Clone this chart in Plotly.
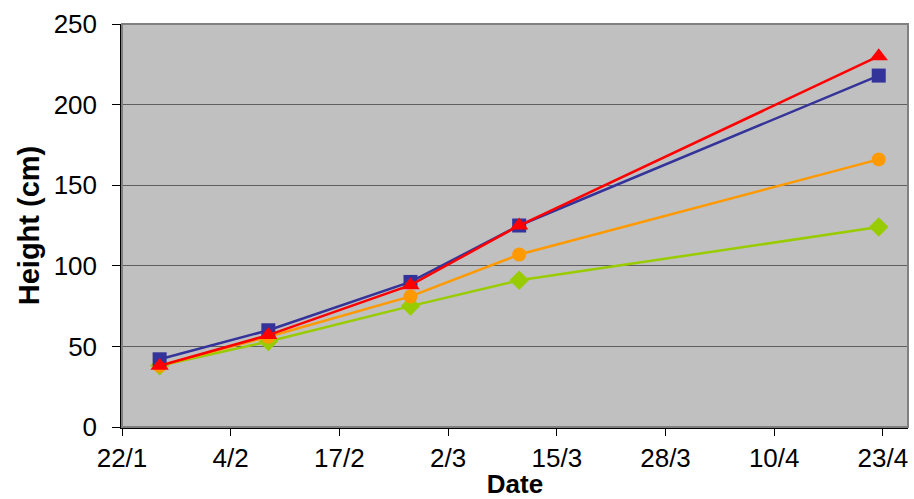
import pandas as pd
import plotly.graph_objects as go

# Measurement dates (2007) and plant heights in cm
dates = ["2007-01-26", "2007-02-08", "2007-02-25", "2007-03-10", "2007-04-22"]
green_vals = [38, 53, 75, 91, 124]
orange_vals = [38, 56, 81, 107, 166]
blue_vals = [42, 60, 90, 125, 218]
red_vals = [38, 57, 88, 125, 230]

tick_dates = ["2007-01-22", "2007-02-04", "2007-02-17", "2007-03-02",
              "2007-03-15", "2007-03-28", "2007-04-10", "2007-04-23"]
tick_labels = ["22/1", "4/2", "17/2", "2/3", "15/3", "28/3", "10/4", "23/4"]
y_ticks = [0, 50, 100, 150, 200, 250]

# points sit in the middle of their day on the date axis
x = pd.to_datetime(dates) + pd.Timedelta(hours=12)

series = [
    (green_vals, "#99CC00", "diamond", 15),
    (orange_vals, "#FF9900", "circle", 14),
    (blue_vals, "#333399", "square", 14),
    (red_vals, "#FF0000", "triangle-up", 16),
]

fig = go.Figure()
for vals, color, symbol, size in series:
    fig.add_trace(go.Scatter(
        x=x, y=vals, mode="lines+markers",
        line=dict(color=color, width=2.5),
        marker=dict(color=color, symbol=symbol, size=size, line=dict(width=0)),
        showlegend=False,
    ))

font = "Liberation Sans, Arial, sans-serif"
fig.update_layout(
    width=914, height=499,
    margin=dict(l=122, r=6, t=24, b=72),
    paper_bgcolor="white",
    plot_bgcolor="#C0C0C0",
    font=dict(family=font, size=26, color="black"),
    xaxis=dict(
        type="date",
        range=["2007-01-22", "2007-04-26"],
        tickvals=tick_dates, ticktext=tick_labels,
        ticks="outside", ticklen=7, tickcolor="black", tickwidth=1,
        showgrid=False, zeroline=False,
        showline=True, linecolor="black", linewidth=1.5,
        tickfont=dict(size=26),
        title=dict(text="<b>Date</b>", font=dict(size=26), standoff=2),
    ),
    yaxis=dict(
        range=[0, 250],
        tickvals=y_ticks,
        ticks="outside", ticklen=8, tickcolor="black", tickwidth=1,
        ticklabelstandoff=10,
        showgrid=True, gridcolor="#5f5f5f", gridwidth=1,
        zeroline=False,
        showline=True, linecolor="black", linewidth=1.5,
        tickfont=dict(size=26),
        title=dict(text="<b>Height (cm)</b>", font=dict(size=29), standoff=6),
    ),
    shapes=[dict(
        type="rect", xref="paper", yref="paper", x0=0, x1=1, y0=0, y1=1,
        line=dict(color="#808080", width=2), fillcolor="rgba(0,0,0,0)",
        layer="above",
    )],
)

fig.write_html("out.html")
